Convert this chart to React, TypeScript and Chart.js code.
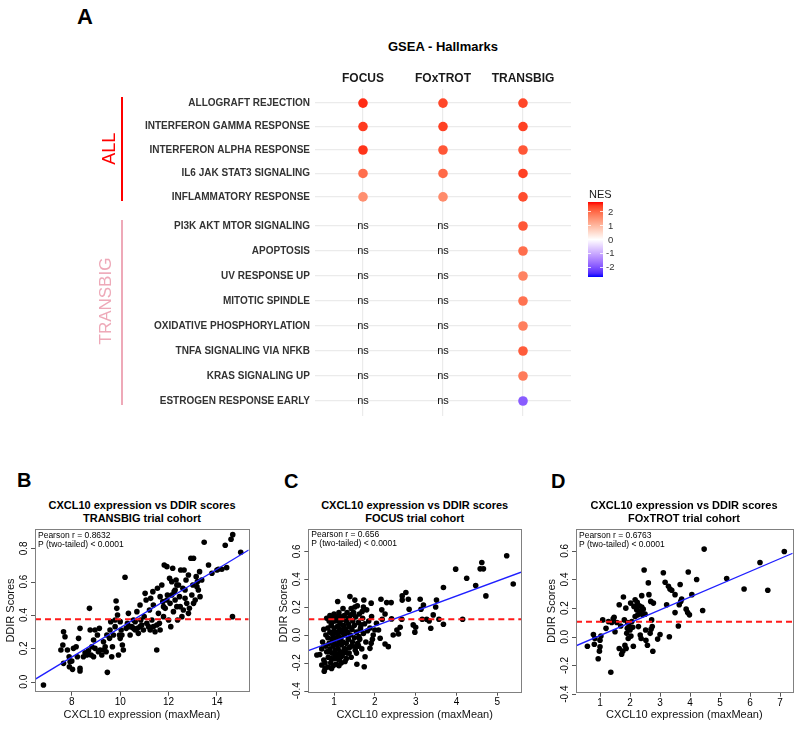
import React, { useEffect, useRef } from "react";
import { Chart, registerables } from "chart.js";
Chart.register(...registerables);

const FONT = "'Liberation Sans', Arial, Helvetica, sans-serif";

// ---------------- Panel A data ----------------
const cohorts = ["FOCUS", "FOxTROT", "TRANSBIG"];
const allPathways = [
  "ALLOGRAFT REJECTION",
  "INTERFERON GAMMA RESPONSE",
  "INTERFERON ALPHA RESPONSE",
  "IL6 JAK STAT3 SIGNALING",
  "INFLAMMATORY RESPONSE",
];
const transbigPathways = [
  "PI3K AKT MTOR SIGNALING",
  "APOPTOSIS",
  "UV RESPONSE UP",
  "MITOTIC SPINDLE",
  "OXIDATIVE PHOSPHORYLATION",
  "TNFA SIGNALING VIA NFKB",
  "KRAS SIGNALING UP",
  "ESTROGEN RESPONSE EARLY",
];
// NES per cohort (first 5 = ALL group, next 8 = TRANSBIG group); null = ns
const nesFOCUS = [2.55, 2.45, 2.5, 1.95, 1.55, null, null, null, null, null, null, null, null];
const nesFOxTROT = [2.35, 2.4, 2.2, 2.0, 1.6, null, null, null, null, null, null, null, null];
const nesTRANSBIG = [2.35, 2.4, 2.2, 2.4, 2.3, 2.2, 1.95, 1.7, 1.9, 1.75, 2.15, 1.8, -1.9];
const nesLimit = 2.7;
const nesLegendTicks = [2, 1, 0, -1, -2];

// ---------------- Panels B-D data ----------------
const xAxisTitle = "CXCL10 expression (maxMean)";
const yAxisTitle = "DDIR Scores";
const titleLine1 = "CXCL10 expression vs DDIR scores";

const transbigPoints: [number, number][] = [
  [6.83,-0.02],[7.66,0.30],[7.72,0.27],[7.63,0.22],[7.55,0.19],[7.66,0.11],[7.82,0.19],[7.89,0.15],[7.93,0.12],[7.90,0.09],
  [8.03,0.074],[8.0,0.124],[8.18,0.21],[8.28,0.26],[8.34,0.32],[8.23,0.15],[8.34,0.08],[8.34,0.064],[8.55,0.174],[8.69,0.186],
  [8.73,0.44],[8.76,0.31],[8.83,0.21],[8.80,0.16],[8.90,0.15],[8.96,0.31],[9.06,0.28],[9.14,0.32],[9.17,0.19],[9.24,0.16],
  [9.31,0.24],[9.38,0.21],[9.42,0.18],[9.47,0.056],[9.56,0.26],[9.58,0.31],[9.61,0.36],[9.65,0.15],[9.72,0.28],[9.79,0.33],
  [9.83,0.484],[9.86,0.44],[9.89,0.40],[9.93,0.16],[9.97,0.28],[10.0,0.36],[10.04,0.31],[10.09,0.22],[10.13,0.19],[10.2,0.626],
  [10.25,0.32],[10.3,0.35],[10.34,0.41],[10.41,0.28],[10.48,0.33],[10.55,0.37],[10.62,0.36],[10.69,0.42],[10.71,0.32],[10.75,0.29],
  [10.82,0.46],[10.85,0.37],[10.89,0.34],[10.96,0.31],[10.99,0.39],[11.03,0.53],[11.07,0.49],[11.1,0.35],[11.17,0.33],[11.21,0.43],
  [11.26,0.50],[11.31,0.37],[11.35,0.54],[11.37,0.46],[11.44,0.30],[11.51,0.19],[11.54,0.56],[11.58,0.41],[11.62,0.35],[11.65,0.51],
  [11.72,0.58],[11.76,0.48],[11.79,0.39],[11.82,0.70],[11.86,0.44],[11.93,0.69],[11.95,0.52],[12.0,0.37],[12.04,0.62],[12.06,0.47],
  [12.09,0.33],[12.13,0.60],[12.17,0.68],[12.2,0.42],[12.23,0.54],[12.27,0.49],[12.31,0.61],[12.34,0.45],[12.37,0.37],[12.41,0.58],
  [12.45,0.51],[12.5,0.67],[12.55,0.39],[12.59,0.56],[12.61,0.43],[12.64,0.67],[12.68,0.50],[12.72,0.61],[12.75,0.47],[12.82,0.64],
  [12.86,0.44],[12.92,0.74],[12.96,0.52],[13.0,0.58],[13.03,0.74],[13.1,0.49],[13.14,0.63],[13.19,0.60],[13.23,0.55],[13.28,0.66],
  [13.3,0.51],[13.37,0.61],[13.47,0.836],[13.65,0.70],[13.79,0.65],[14.0,0.67],[14.06,0.674],[14.2,0.674],[14.34,0.818],[14.4,0.684],
  [14.58,0.854],[14.65,0.882],[14.64,0.39],[14.98,0.776],
  [10.0,0.26],[10.07,0.28],[10.41,0.33],[10.55,0.32],[10.62,0.31],[10.82,0.33],[11.24,0.31],[11.37,0.33],[11.51,0.34],[11.65,0.31],
  [11.79,0.45],[11.93,0.49],[12.13,0.52],[12.27,0.55],[12.34,0.58],[12.48,0.45],[12.68,0.55],[12.82,0.41],[13.03,0.47],[13.17,0.57],
  [9.45,0.28],[9.31,0.19],[9.1,0.18],[8.96,0.2],[8.62,0.16],[8.48,0.15],[8.07,0.2],[9.68,0.21],[9.79,0.37],[8.9,0.25],
];

const focusPoints: [number, number][] = [
  [5.23,0.568],[5.39,0.366],[4.62,0.52],[4.58,0.474],[4.66,0.474],[4.72,0.28],[4.47,0.354],[4.25,0.407],[3.98,0.472],[4.15,0.113],
  [3.68,0.34],[3.68,0.077],[3.57,0.113],[3.51,0.25],[3.49,0.2],[3.43,0.144],[3.37,0.048],[3.33,0.1],[3.27,0.113],[3.16,0.113],
  [3.19,0.215],[3.13,0.184],[3.11,0.256],[3.0,0.055],[2.98,0.02],[2.94,0.072],[2.84,0.184],[2.82,0.256],[2.76,0.304],[2.67,0.28],
  [2.67,0.25],[2.66,0.113],[2.62,0.055],[2.58,0.007],[2.54,0.036],[2.45,0.0],[2.41,0.115],[2.40,0.232],[2.29,0.232],[2.25,0.15],
  [2.18,0.113],[2.17,0.18],[2.15,0.256],[2.33,-0.084],[2.25,-0.065],[2.13,-0.024],[2.09,0.036],[2.04,0.084],[2.0,0.036],[1.96,0.0],
  [1.94,-0.031],[1.92,0.132],[1.91,0.228],[1.91,-0.06],[1.88,-0.096],[1.76,-0.156],[1.74,-0.228],[1.73,0.251],[1.72,0.2],[1.69,0.168],
  [1.66,0.072],[1.64,0.036],[1.61,-0.012],[1.56,-0.21],[1.53,-0.084],[1.51,0.2],[1.51,0.25],[1.39,0.275],[1.09,0.24],[0.94,-0.24],
  [0.76,-0.26],[0.70,-0.215],[0.58,-0.144],
  [0.65,-0.14],[0.7,-0.1],[0.72,-0.05],[0.75,0.04],[0.75,-0.18],[0.78,-0.2],[0.8,0.0],[0.8,-0.08],[0.82,0.12],[0.82,-0.12],
  [0.85,0.05],[0.85,-0.02],[0.86,-0.16],[0.88,0.1],[0.88,-0.06],[0.9,0.14],[0.9,0.02],[0.9,-0.1],[0.92,-0.2],[0.93,0.07],
  [0.95,-0.03],[0.95,-0.13],[0.96,0.12],[0.97,0.0],[0.98,-0.08],[1.0,0.15],[1.0,0.05],[1.0,-0.05],[1.0,-0.17],[1.02,0.1],
  [1.03,-0.11],[1.04,0.02],[1.05,-0.02],[1.05,-0.21],[1.06,0.13],[1.07,-0.07],[1.08,0.06],[1.08,-0.14],[1.1,0.0],[1.1,0.1],
  [1.1,-0.1],[1.12,-0.04],[1.12,0.16],[1.13,-0.18],[1.14,0.04],[1.15,-0.12],[1.15,0.08],[1.17,0.13],[1.17,-0.02],[1.18,-0.07],
  [1.2,0.02],[1.2,-0.15],[1.2,0.11],[1.22,0.19],[1.22,-0.05],[1.23,0.07],[1.25,-0.1],[1.25,0.14],[1.26,0.0],[1.27,-0.19],
  [1.28,0.04],[1.3,0.1],[1.3,-0.06],[1.32,0.16],[1.32,-0.13],[1.33,0.02],[1.35,-0.03],[1.35,0.12],[1.37,0.06],[1.38,-0.09],
  [1.4,0.0],[1.4,0.14],[1.42,0.19],[1.42,-0.16],[1.44,0.04],[1.45,-0.05],[1.46,0.1],[1.48,0.16],[1.5,-0.02],[1.5,0.07],
  [1.52,-0.11],[1.53,0.13],[1.55,0.02],[1.57,0.21],[1.58,-0.06],[1.6,0.09],[1.62,0.15],[1.63,-0.03],[1.65,0.05],[1.68,-0.1],
  [1.7,0.12],[1.72,0.01],[1.75,0.08],[1.78,-0.05],[1.8,0.18],[1.82,0.03],[1.85,0.1],[1.88,0.05],[0.78,-0.24],[0.85,-0.23],
  [0.98,-0.22],[1.12,-0.22],[1.18,-0.2],[1.3,-0.17],[0.95,0.09],[1.05,0.12],[1.15,0.03],[1.25,0.05],[1.35,0.08],[1.45,0.15],
  [0.87,-0.12],[0.93,-0.17],[1.02,-0.14],[1.09,-0.17],[1.16,-0.16],[1.22,-0.13],[1.28,-0.1],[1.37,-0.13],[1.43,-0.08],[1.55,-0.13],
  [1.6,-0.08],[1.0,0.02],[1.1,0.06],
];

const foxtrotPoints: [number, number][] = [
  [0.58,-0.066],[0.78,0.016],[0.81,-0.052],[0.83,-0.012],[0.94,-0.153],[1.0,-0.07],[0.98,-0.1],[1.0,-0.024],[1.03,0.005],[1.09,0.118],
  [1.2,0.059],[1.28,0.106],[1.36,-0.247],[1.39,0.1],[1.44,0.125],[1.47,0.136],[1.5,0.035],[1.56,0.1],[1.64,0.224],[1.64,-0.082],
  [1.69,0.075],[1.72,-0.122],[1.76,-0.1],[1.78,0.278],[1.81,0.118],[1.83,-0.06],[1.86,0.2],[1.87,-0.082],[1.89,0.024],[1.91,0.059],
  [1.92,0.1],[1.94,-0.012],[1.97,0.075],[2.0,0.047],[2.02,0.235],[2.03,0.005],[2.06,0.106],[2.09,0.066],[2.11,-0.066],[2.13,0.212],
  [2.17,0.259],[2.17,0.141],[2.2,0.207],[2.22,0.188],[2.24,0.24],[2.26,0.153],[2.28,0.071],[2.31,0.216],[2.33,0.176],[2.34,0.012],
  [2.37,-0.012],[2.39,0.207],[2.39,0.287],[2.42,0.153],[2.44,0.193],[2.47,0.466],[2.5,0.158],[2.52,0.047],[2.53,-0.024],[2.58,-0.059],
  [2.61,0.376],[2.63,0.294],[2.67,0.024],[2.69,0.247],[2.7,0.052],[2.72,0.118],[2.74,0.071],[2.76,-0.101],[2.78,0.235],[2.92,-0.016],
  [3.0,0.016],[3.11,0.447],[3.17,0.381],[3.22,0.224],[3.28,0.353],[3.31,0.0],[3.33,0.334],[3.39,0.325],[3.5,0.294],[3.5,0.169],
  [3.61,0.075],[3.67,0.365],[3.64,0.224],[3.69,0.247],[3.72,0.264],[3.94,0.452],[3.87,0.193],[3.92,0.169],[3.98,0.153],[4.06,0.294],
  [4.22,0.4],[4.42,0.184],[4.47,0.612],[5.22,0.407],[5.8,0.334],[6.33,0.518],[6.59,0.325],[7.14,0.595],
];

// fitted regression line ends (at axis limits) and threshold lines
const transbigFit: [number, number][] = [[6.48, 0.014], [15.31, 0.79]];
const focusFit: [number, number][] = [[0.37, -0.113], [5.58, 0.45]];
const foxtrotFit: [number, number][] = [[0.2, -0.063], [7.42, 0.583]];
const transbigThreshold = 0.374;
const focusThreshold = 0.113;
const foxtrotThreshold = 0.105;
const transbigXTicks = [8, 10, 12, 14];
const transbigYTicks = [0, 0.2, 0.4, 0.6, 0.8];
const focusXTicks = [1, 2, 3, 4, 5];
const foxtrotXTicks = [1, 2, 3, 4, 5, 6, 7];
const ddirYTicks = [-0.4, -0.2, 0, 0.2, 0.4, 0.6];
const pearsonR = ["0.8632", "0.656", "0.6763"];
const cohortTitles = ["TRANSBIG trial cohort", "FOCUS trial cohort", "FOxTROT trial cohort"];

// ---------------- colour scale (Lab interpolation, like ggplot gradient2) ----------------
const LAB_WHITE = [100, 0, 0];
const LAB_RED = [53.24, 80.09, 67.2];
const LAB_BLUE = [32.3, 79.19, -107.86];
function labToRgb(L: number, a: number, b: number) {
  const fy = (L + 16) / 116;
  const fx = fy + a / 500;
  const fz = fy - b / 200;
  const finv = (t: number) => (t * t * t > 0.008856 ? t * t * t : (t - 16 / 116) / 7.787);
  const X = 0.95047 * finv(fx), Y = finv(fy), Z = 1.08883 * finv(fz);
  const lin = [
    3.2406 * X - 1.5372 * Y - 0.4986 * Z,
    -0.9689 * X + 1.8758 * Y + 0.0415 * Z,
    0.0557 * X - 0.204 * Y + 1.057 * Z,
  ];
  return lin.map((c) => {
    const v = c <= 0.0031308 ? 12.92 * c : 1.055 * Math.pow(Math.max(c, 0), 1 / 2.4) - 0.055;
    return Math.round(Math.min(1, Math.max(0, v)) * 255);
  });
}
function nesColor(v: number) {
  const t = Math.min(1, Math.abs(v) / nesLimit);
  const end = v >= 0 ? LAB_RED : LAB_BLUE;
  const lab = LAB_WHITE.map((w, i) => w + (end[i] - w) * t);
  const [r, g, b] = labToRgb(lab[0], lab[1], lab[2]);
  return `rgb(${r},${g},${b})`;
}

// ---------------- Dot plot facet ----------------
type Box = { l: number; r: number; t: number; b: number };
function DotFacet(props: { rows: string[]; start: number; left: number; top: number; width: number; height: number; area: Box; header: boolean }) {
  const ref = useRef<HTMLCanvasElement>(null);
  const { rows, start, left, top, width, height, area, header } = props;
  useEffect(() => {
    const series = [nesFOCUS, nesFOxTROT, nesTRANSBIG];
    const pts: any[] = [];
    const ns: any[] = [];
    rows.forEach((_, r) => {
      cohorts.forEach((_c, c) => {
        const v = series[c][start + r];
        if (v === null || v === undefined) ns.push({ x: c + 1, y: r + 1 });
        else pts.push({ x: c + 1, y: r + 1, v });
      });
    });
    const nsPlugin = {
      id: "nsText",
      afterDatasetsDraw(chart: any) {
        const ctx = chart.ctx;
        ctx.save();
        ctx.font = `11px ${FONT}`;
        ctx.fillStyle = "#111";
        ctx.textAlign = "center";
        ctx.textBaseline = "middle";
        ns.forEach((p) => {
          ctx.fillText("ns", chart.scales.x.getPixelForValue(p.x), chart.scales.y.getPixelForValue(p.y));
        });
        ctx.restore();
      },
    };
    const chart = new Chart(ref.current!, {
      type: "scatter",
      data: {
        datasets: [
          {
            data: pts,
            pointRadius: 4.8,
            borderWidth: 0,
            pointBackgroundColor: (ctx: any) => nesColor(ctx.raw ? ctx.raw.v : 0),
          } as any,
        ],
      },
      options: {
        animation: false,
        responsive: false,
        events: [],
        layout: { padding: { left: 0, top: header ? 0 : area.t - top, right: left + width - area.r, bottom: top + height - area.b } },
        plugins: { legend: { display: false }, tooltip: { enabled: false } },
        scales: {
          x: {
            type: "linear",
            position: header ? "top" : "bottom",
            min: 0.4,
            max: cohorts.length + 0.6,
            afterBuildTicks: (s: any) => { s.ticks = cohorts.map((_, i) => ({ value: i + 1 })); },
            afterFit: (s: any) => { s.height = header ? area.t - top : 0; },
            ticks: {
              display: header,
              callback: (v: any) => cohorts[Math.round(v) - 1],
              font: { family: FONT, size: 12, weight: "bold" },
              color: "#1a1a1a",
              padding: 3,
              maxRotation: 0,
              autoSkip: false,
            },
            grid: { color: "#ebebeb", lineWidth: 1.2, drawTicks: false },
            border: { display: false },
          },
          y: {
            type: "linear",
            reverse: true,
            min: 0.4,
            max: rows.length + 0.6,
            afterBuildTicks: (s: any) => { s.ticks = rows.map((_, i) => ({ value: i + 1 })); },
            afterFit: (s: any) => { s.width = area.l - left; },
            ticks: {
              callback: (v: any) => rows[Math.round(v) - 1],
              font: { family: FONT, size: 10, weight: "bold" },
              color: "#333",
              padding: 5,
              autoSkip: false,
            },
            grid: { color: "#ebebeb", lineWidth: 1.2, drawTicks: false },
            border: { display: false },
          },
        },
      } as any,
      plugins: [nsPlugin],
    });
    return () => chart.destroy();
  }, []);
  return (
    <canvas ref={ref} width={width} height={height} style={{ position: "absolute", left, top, width, height }} />
  );
}

// ---------------- Scatter panel ----------------
function ScatterPanel(props: {
  left: number; top: number; width: number; height: number; box: Box;
  points: [number, number][]; xRange: [number, number]; yRange: [number, number];
  xTicks: number[]; yTicks: number[]; fit: [number, number][]; threshold: number; r: string;
}) {
  const ref = useRef<HTMLCanvasElement>(null);
  const { left, top, width, height, box, points, xRange, yRange, xTicks, yTicks, fit, threshold, r } = props;
  useEffect(() => {
    const axesPlugin = {
      id: "rAxes",
      afterDraw(chart: any) {
        const ctx = chart.ctx;
        const ca = chart.chartArea;
        const ys = chart.scales.y;
        ctx.save();
        ctx.strokeStyle = "#808080";
        ctx.lineWidth = 1;
        ctx.strokeRect(Math.round(ca.left) + 0.5, Math.round(ca.top) + 0.5, Math.round(ca.right - ca.left), Math.round(ca.bottom - ca.top));
        ctx.strokeStyle = "#555";
        ctx.fillStyle = "#000";
        ctx.font = `10px ${FONT}`;
        ctx.textAlign = "center";
        ctx.textBaseline = "middle";
        yTicks.forEach((v) => {
          const py = ys.getPixelForValue(v);
          ctx.beginPath();
          ctx.moveTo(ca.left - 4, Math.round(py) + 0.5);
          ctx.lineTo(ca.left, Math.round(py) + 0.5);
          ctx.stroke();
          ctx.save();
          ctx.translate(ca.left - 11, py);
          ctx.rotate(-Math.PI / 2);
          ctx.fillText(v.toFixed(1), 0, 0);
          ctx.restore();
        });
        ctx.font = `8.5px ${FONT}`;
        ctx.textAlign = "left";
        ctx.fillText(`Pearson r = ${r}`, ca.left + 3, ca.top + 6);
        ctx.fillText("P (two-tailed) < 0.0001", ca.left + 3, ca.top + 15);
        ctx.restore();
      },
    };
    const chart = new Chart(ref.current!, {
      type: "scatter",
      data: {
        datasets: [
          { data: points.map(([x, y]) => ({ x, y })), pointRadius: 2.8, borderWidth: 0, backgroundColor: "#000", order: 2 },
          { type: "line", data: fit.map(([x, y]) => ({ x, y })), borderColor: "#1f1fff", borderWidth: 1.3, pointRadius: 0, order: 1 },
          {
            type: "line",
            data: [{ x: xRange[0], y: threshold }, { x: xRange[1], y: threshold }],
            borderColor: "#ff1a1a", borderWidth: 2, borderDash: [6, 4], pointRadius: 0, order: 0,
          },
        ] as any,
      },
      options: {
        animation: false,
        responsive: false,
        events: [],
        layout: { padding: { left: 0, top: box.t - top, right: left + width - box.r, bottom: 0 } },
        plugins: { legend: { display: false }, tooltip: { enabled: false } },
        scales: {
          x: {
            type: "linear",
            min: xRange[0],
            max: xRange[1],
            afterBuildTicks: (s: any) => { s.ticks = xTicks.map((v) => ({ value: v })); },
            afterFit: (s: any) => { s.height = top + height - box.b; },
            ticks: { font: { family: FONT, size: 10 }, color: "#000", padding: 1, maxRotation: 0, autoSkip: false, callback: (v: any) => String(v) },
            grid: { display: true, drawOnChartArea: false, drawTicks: true, tickLength: 4, color: "#555" },
            border: { display: false },
            title: { display: true, text: xAxisTitle, font: { family: FONT, size: 11 }, color: "#111", padding: { top: 0, bottom: 7.4 } },
          },
          y: {
            type: "linear",
            min: yRange[0],
            max: yRange[1],
            afterFit: (s: any) => { s.width = box.l - left; },
            ticks: { display: false },
            grid: { display: false },
            border: { display: false },
            title: { display: true, text: yAxisTitle, font: { family: FONT, size: 11 }, color: "#111", padding: { top: 4.4, bottom: 0 } },
          },
        },
      } as any,
      plugins: [axesPlugin],
    });
    return () => chart.destroy();
  }, []);
  return <canvas ref={ref} width={width} height={height} style={{ position: "absolute", left, top, width, height }} />;
}

function Txt(props: { x: number; y: number; text: string; size: number; bold?: boolean; color?: string; align?: "left" | "center"; w?: number }) {
  const { x, y, text, size, bold, color, align, w } = props;
  const lh = Math.round(size * 1.3);
  const width = w ?? 300;
  return (
    <div
      style={{
        position: "absolute",
        left: align === "center" ? x - width / 2 : x,
        top: y - lh / 2,
        width: align === "center" ? width : undefined,
        textAlign: align === "center" ? "center" : "left",
        font: `${bold ? "bold " : ""}${size}px ${FONT}`,
        lineHeight: `${lh}px`,
        color: color ?? "#000",
        whiteSpace: "nowrap",
      }}
    >
      {text}
    </div>
  );
}

function VText(props: { x: number; y: number; text: string; size: number; color: string }) {
  const { x, y, text, size, color } = props;
  const w = 200, h = size * 1.3;
  return (
    <div
      style={{
        position: "absolute",
        left: x - w / 2,
        top: y - h / 2,
        width: w,
        height: h,
        lineHeight: `${h}px`,
        textAlign: "center",
        font: `${size}px ${FONT}`,
        color,
        transform: "rotate(-90deg)",
        whiteSpace: "nowrap",
      }}
    >
      {text}
    </div>
  );
}

function NesLegend() {
  const top = 202, bottom = 277, left = 588, w = 15;
  const zeroY = (top + bottom) / 2;
  const pxPerUnit = (bottom - top) / (2 * nesLimit);
  const stops: string[] = [];
  for (let i = 0; i <= 20; i++) {
    const v = nesLimit - (i / 20) * 2 * nesLimit;
    stops.push(`${nesColor(v)} ${(i / 20) * 100}%`);
  }
  return (
    <>
      <Txt x={589} y={193.5} text="NES" size={11} color="#1a1a1a" />
      <div style={{ position: "absolute", left, top, width: w, height: bottom - top, background: `linear-gradient(to bottom, ${stops.join(",")})` }} />
      {nesLegendTicks.map((t) => (
        <React.Fragment key={t}>
          <div style={{ position: "absolute", left, top: zeroY - t * pxPerUnit - 0.5, width: 3, height: 1, background: "rgba(255,255,255,0.8)" }} />
          <div style={{ position: "absolute", left: left + w - 3, top: zeroY - t * pxPerUnit - 0.5, width: 3, height: 1, background: "rgba(255,255,255,0.8)" }} />
          <Txt x={left + w + (t < 0 ? 3 : 5)} y={zeroY - t * pxPerUnit} text={String(t)} size={9.5} color="#333" />
        </React.Fragment>
      ))}
    </>
  );
}

export default function App() {
  return (
    <div style={{ position: "fixed", left: 0, top: 0, width: 800, height: 729, background: "#fff", overflow: "hidden" }}>
      {/* Panel A */}
      <Txt x={77} y={16} text="A" size={22} bold />
      <Txt x={443} y={46} text="GSEA - Hallmarks" size={13} bold align="center" />
      <DotFacet rows={allPathways} start={0} left={0} top={0} width={600} height={227} area={{ l: 315, r: 571, t: 89, b: 211 }} header />
      <DotFacet rows={transbigPathways} start={allPathways.length} left={0} top={195} width={600} height={238} area={{ l: 315, r: 571, t: 211, b: 416 }} header={false} />
      <div style={{ position: "absolute", left: 121, top: 97, width: 2, height: 104, background: "#ff0000" }} />
      <div style={{ position: "absolute", left: 121, top: 220, width: 2, height: 185, background: "#eea9b8" }} />
      <VText x={111} y={149} text="ALL" size={18} color="#ff0000" />
      <VText x={107} y={301} text="TRANSBIG" size={17} color="#eea9b8" />
      <NesLegend />

      {/* Panel B */}
      <Txt x={17} y={480} text="B" size={20} bold />
      <Txt x={142} y={505} text={titleLine1} size={11} bold align="center" />
      <Txt x={142} y={518} text={cohortTitles[0]} size={11} bold align="center" />
      <ScatterPanel left={0} top={525} width={262} height={204} box={{ l: 35, r: 248.7, t: 529.3, b: 691.7 }}
        points={transbigPoints} xRange={[6.48, 15.31]} yRange={[-0.06, 0.914]} xTicks={transbigXTicks} yTicks={transbigYTicks}
        fit={transbigFit} threshold={transbigThreshold} r={pearsonR[0]} />

      {/* Panel C */}
      <Txt x={284} y={481} text="C" size={20} bold />
      <Txt x={414.7} y={505} text={titleLine1} size={11} bold align="center" />
      <Txt x={414.7} y={518} text={cohortTitles[1]} size={11} bold align="center" />
      <ScatterPanel left={273} top={525} width={262} height={204} box={{ l: 308.3, r: 521, t: 529, b: 691.7 }}
        points={focusPoints} xRange={[0.37, 5.58]} yRange={[-0.407, 0.76]} xTicks={focusXTicks} yTicks={ddirYTicks}
        fit={focusFit} threshold={focusThreshold} r={pearsonR[1]} />

      {/* Panel D */}
      <Txt x={551} y={481} text="D" size={20} bold />
      <Txt x={684} y={505} text={titleLine1} size={11} bold align="center" />
      <Txt x={684} y={518} text={cohortTitles[2]} size={11} bold align="center" />
      <ScatterPanel left={541} top={525} width={259} height={204} box={{ l: 576, r: 792.7, t: 529.3, b: 692.7 }}
        points={foxtrotPoints} xRange={[0.2, 7.42]} yRange={[-0.39, 0.75]} xTicks={foxtrotXTicks} yTicks={ddirYTicks}
        fit={foxtrotFit} threshold={foxtrotThreshold} r={pearsonR[2]} />
    </div>
  );
}
